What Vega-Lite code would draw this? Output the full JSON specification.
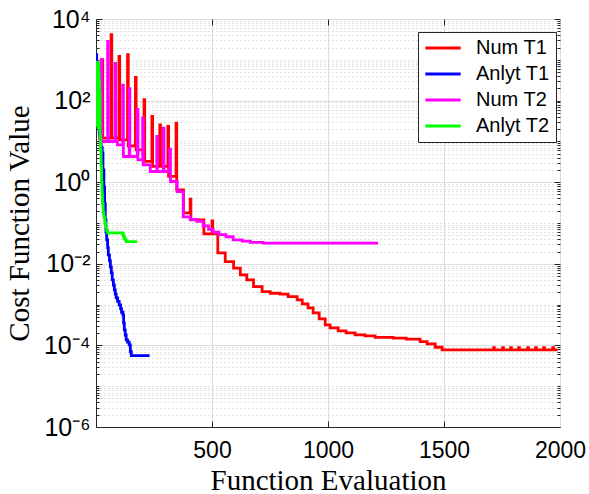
{
  "$schema": "https://vega.github.io/schema/vega-lite/v6.json",
  "width": 464,
  "height": 408,
  "autosize": "none",
  "padding": {"left": 96, "top": 19, "right": 29, "bottom": 67},
  "config": {"view": {"stroke": "#262626", "strokeWidth": 1}, "font": "Liberation Sans"},
  "data": {"values": [
    {"s": "Num T1", "x": 1, "y": 300}, {"s": "Num T1", "x": 8, "y": 60}, {"s": "Num T1", "x": 16, "y": 12.05},
    {"s": "Num T1", "x": 26, "y": 1005}, {"s": "Num T1", "x": 29, "y": 12.05}, {"s": "Num T1", "x": 65, "y": 4120},
    {"s": "Num T1", "x": 68, "y": 12.05}, {"s": "Num T1", "x": 99, "y": 1210}, {"s": "Num T1", "x": 102, "y": 10.9},
    {"s": "Num T1", "x": 136, "y": 1330}, {"s": "Num T1", "x": 139, "y": 7.8}, {"s": "Num T1", "x": 170, "y": 370},
    {"s": "Num T1", "x": 173, "y": 6.22}, {"s": "Num T1", "x": 207, "y": 105}, {"s": "Num T1", "x": 210, "y": 3.25},
    {"s": "Num T1", "x": 241, "y": 40.8}, {"s": "Num T1", "x": 244, "y": 2.45}, {"s": "Num T1", "x": 275, "y": 25.5},
    {"s": "Num T1", "x": 278, "y": 2.45}, {"s": "Num T1", "x": 310, "y": 23.2}, {"s": "Num T1", "x": 313, "y": 1.39},
    {"s": "Num T1", "x": 345, "y": 28.1}, {"s": "Num T1", "x": 348, "y": 0.65}, {"s": "Num T1", "x": 377, "y": 0.177},
    {"s": "Num T1", "x": 406, "y": 0.385}, {"s": "Num T1", "x": 409, "y": 0.119}, {"s": "Num T1", "x": 465, "y": 0.0542},
    {"s": "Num T1", "x": 500, "y": 0.113}, {"s": "Num T1", "x": 503, "y": 0.0542}, {"s": "Num T1", "x": 525, "y": 0.0185},
    {"s": "Num T1", "x": 557, "y": 0.0113}, {"s": "Num T1", "x": 593, "y": 0.00781}, {"s": "Num T1", "x": 622, "y": 0.00535},
    {"s": "Num T1", "x": 650, "y": 0.00404}, {"s": "Num T1", "x": 679, "y": 0.00276}, {"s": "Num T1", "x": 716, "y": 0.00208},
    {"s": "Num T1", "x": 751, "y": 0.0019}, {"s": "Num T1", "x": 794, "y": 0.0018}, {"s": "Num T1", "x": 828, "y": 0.00157},
    {"s": "Num T1", "x": 867, "y": 0.0013}, {"s": "Num T1", "x": 889, "y": 0.00104}, {"s": "Num T1", "x": 914, "y": 0.00083},
    {"s": "Num T1", "x": 936, "y": 0.000625}, {"s": "Num T1", "x": 962, "y": 0.000446}, {"s": "Num T1", "x": 988, "y": 0.000318},
    {"s": "Num T1", "x": 1009, "y": 0.000268}, {"s": "Num T1", "x": 1044, "y": 0.000226}, {"s": "Num T1", "x": 1078, "y": 0.000202},
    {"s": "Num T1", "x": 1117, "y": 0.000181}, {"s": "Num T1", "x": 1160, "y": 0.000171}, {"s": "Num T1", "x": 1203, "y": 0.000158},
    {"s": "Num T1", "x": 1281, "y": 0.00015}, {"s": "Num T1", "x": 1337, "y": 0.000142}, {"s": "Num T1", "x": 1397, "y": 0.000124},
    {"s": "Num T1", "x": 1427, "y": 0.000109}, {"s": "Num T1", "x": 1462, "y": 0.0000902}, {"s": "Num T1", "x": 1492, "y": 0.0000774},
    {"s": "Num T1", "x": 1714, "y": 0.000088}, {"s": "Num T1", "x": 1717, "y": 0.0000774},
    {"s": "Num T1", "x": 1753, "y": 0.000088}, {"s": "Num T1", "x": 1756, "y": 0.0000774},
    {"s": "Num T1", "x": 1787, "y": 0.000088}, {"s": "Num T1", "x": 1790, "y": 0.0000774},
    {"s": "Num T1", "x": 1822, "y": 0.000088}, {"s": "Num T1", "x": 1825, "y": 0.0000774},
    {"s": "Num T1", "x": 1861, "y": 0.000088}, {"s": "Num T1", "x": 1864, "y": 0.0000774},
    {"s": "Num T1", "x": 1895, "y": 0.000088}, {"s": "Num T1", "x": 1898, "y": 0.0000774},
    {"s": "Num T1", "x": 1930, "y": 0.000088}, {"s": "Num T1", "x": 1933, "y": 0.0000774},
    {"s": "Num T1", "x": 1969, "y": 0.000088}, {"s": "Num T1", "x": 1972, "y": 0.0000774},
    {"s": "Num T1", "x": 1990, "y": 0.0000774},

    {"s": "Anlyt T1", "x": 1, "y": 1330}, {"s": "Anlyt T1", "x": 3, "y": 500}, {"s": "Anlyt T1", "x": 6, "y": 100},
    {"s": "Anlyt T1", "x": 10, "y": 30}, {"s": "Anlyt T1", "x": 14, "y": 15}, {"s": "Anlyt T1", "x": 18, "y": 10},
    {"s": "Anlyt T1", "x": 22, "y": 7}, {"s": "Anlyt T1", "x": 27, "y": 5.26}, {"s": "Anlyt T1", "x": 30, "y": 2},
    {"s": "Anlyt T1", "x": 34, "y": 0.77}, {"s": "Anlyt T1", "x": 37, "y": 0.3}, {"s": "Anlyt T1", "x": 40, "y": 0.119},
    {"s": "Anlyt T1", "x": 43, "y": 0.06}, {"s": "Anlyt T1", "x": 46, "y": 0.0386}, {"s": "Anlyt T1", "x": 50, "y": 0.025},
    {"s": "Anlyt T1", "x": 53, "y": 0.0166}, {"s": "Anlyt T1", "x": 58, "y": 0.012}, {"s": "Anlyt T1", "x": 62, "y": 0.0084},
    {"s": "Anlyt T1", "x": 66, "y": 0.006}, {"s": "Anlyt T1", "x": 70, "y": 0.00404}, {"s": "Anlyt T1", "x": 75, "y": 0.003},
    {"s": "Anlyt T1", "x": 79, "y": 0.00229}, {"s": "Anlyt T1", "x": 83, "y": 0.0018}, {"s": "Anlyt T1", "x": 87, "y": 0.00146},
    {"s": "Anlyt T1", "x": 93, "y": 0.0012}, {"s": "Anlyt T1", "x": 100, "y": 0.00098}, {"s": "Anlyt T1", "x": 106, "y": 0.0008},
    {"s": "Anlyt T1", "x": 110, "y": 0.00065}, {"s": "Anlyt T1", "x": 116, "y": 0.000558}, {"s": "Anlyt T1", "x": 119, "y": 0.00035},
    {"s": "Anlyt T1", "x": 122, "y": 0.000239}, {"s": "Anlyt T1", "x": 126, "y": 0.00018}, {"s": "Anlyt T1", "x": 130, "y": 0.000136},
    {"s": "Anlyt T1", "x": 136, "y": 0.00012}, {"s": "Anlyt T1", "x": 143, "y": 0.000103}, {"s": "Anlyt T1", "x": 148, "y": 0.00007},
    {"s": "Anlyt T1", "x": 152, "y": 0.0000561}, {"s": "Anlyt T1", "x": 231, "y": 0.0000561},

    {"s": "Num T2", "x": 1, "y": 600}, {"s": "Num T2", "x": 10, "y": 50}, {"s": "Num T2", "x": 18, "y": 9.95},
    {"s": "Num T2", "x": 22, "y": 1005}, {"s": "Num T2", "x": 25, "y": 9.95}, {"s": "Num T2", "x": 50, "y": 2820},
    {"s": "Num T2", "x": 53, "y": 9.95}, {"s": "Num T2", "x": 82, "y": 815}, {"s": "Num T2", "x": 85, "y": 9.95},
    {"s": "Num T2", "x": 92, "y": 8.26}, {"s": "Num T2", "x": 115, "y": 240}, {"s": "Num T2", "x": 118, "y": 4.27},
    {"s": "Num T2", "x": 143, "y": 195}, {"s": "Num T2", "x": 146, "y": 4.27}, {"s": "Num T2", "x": 178, "y": 60.7},
    {"s": "Num T2", "x": 181, "y": 3.54}, {"s": "Num T2", "x": 201, "y": 37.9}, {"s": "Num T2", "x": 204, "y": 2.67},
    {"s": "Num T2", "x": 234, "y": 1.83}, {"s": "Num T2", "x": 262, "y": 13.2}, {"s": "Num T2", "x": 265, "y": 1.83},
    {"s": "Num T2", "x": 290, "y": 21.2}, {"s": "Num T2", "x": 293, "y": 1.83}, {"s": "Num T2", "x": 318, "y": 6.47},
    {"s": "Num T2", "x": 321, "y": 1.04}, {"s": "Num T2", "x": 350, "y": 0.59}, {"s": "Num T2", "x": 376, "y": 0.142},
    {"s": "Num T2", "x": 406, "y": 0.122}, {"s": "Num T2", "x": 435, "y": 0.11}, {"s": "Num T2", "x": 462, "y": 0.085},
    {"s": "Num T2", "x": 485, "y": 0.07}, {"s": "Num T2", "x": 505, "y": 0.06}, {"s": "Num T2", "x": 530, "y": 0.052},
    {"s": "Num T2", "x": 560, "y": 0.046}, {"s": "Num T2", "x": 591, "y": 0.0386}, {"s": "Num T2", "x": 630, "y": 0.036},
    {"s": "Num T2", "x": 665, "y": 0.0335}, {"s": "Num T2", "x": 720, "y": 0.0321}, {"s": "Num T2", "x": 1216, "y": 0.0321},

    {"s": "Anlyt T2", "x": 0, "y": 600}, {"s": "Anlyt T2", "x": 1, "y": 30}, {"s": "Anlyt T2", "x": 2, "y": 850},
    {"s": "Anlyt T2", "x": 3, "y": 25}, {"s": "Anlyt T2", "x": 4, "y": 700}, {"s": "Anlyt T2", "x": 5, "y": 40},
    {"s": "Anlyt T2", "x": 6, "y": 880}, {"s": "Anlyt T2", "x": 7, "y": 28}, {"s": "Anlyt T2", "x": 8, "y": 600},
    {"s": "Anlyt T2", "x": 9, "y": 22}, {"s": "Anlyt T2", "x": 10, "y": 780}, {"s": "Anlyt T2", "x": 11, "y": 35},
    {"s": "Anlyt T2", "x": 12, "y": 500}, {"s": "Anlyt T2", "x": 13, "y": 22}, {"s": "Anlyt T2", "x": 14, "y": 300},
    {"s": "Anlyt T2", "x": 15, "y": 20}, {"s": "Anlyt T2", "x": 16, "y": 150}, {"s": "Anlyt T2", "x": 17, "y": 15},
    {"s": "Anlyt T2", "x": 18, "y": 12}, {"s": "Anlyt T2", "x": 20, "y": 6}, {"s": "Anlyt T2", "x": 22, "y": 2.5},
    {"s": "Anlyt T2", "x": 24, "y": 1}, {"s": "Anlyt T2", "x": 26, "y": 0.5}, {"s": "Anlyt T2", "x": 28, "y": 0.3},
    {"s": "Anlyt T2", "x": 31, "y": 0.18}, {"s": "Anlyt T2", "x": 34, "y": 0.142}, {"s": "Anlyt T2", "x": 38, "y": 0.1},
    {"s": "Anlyt T2", "x": 42, "y": 0.08}, {"s": "Anlyt T2", "x": 46, "y": 0.065}, {"s": "Anlyt T2", "x": 50, "y": 0.057},
    {"s": "Anlyt T2", "x": 112, "y": 0.057}, {"s": "Anlyt T2", "x": 116, "y": 0.052}, {"s": "Anlyt T2", "x": 119, "y": 0.046},
    {"s": "Anlyt T2", "x": 123, "y": 0.041}, {"s": "Anlyt T2", "x": 127, "y": 0.038}, {"s": "Anlyt T2", "x": 131, "y": 0.0351},
    {"s": "Anlyt T2", "x": 177, "y": 0.0351}
  ]},
  "layer": [
    {
      "mark": {"type": "line", "interpolate": "step-after", "strokeWidth": 2.8, "clip": true},
      "encoding": {
        "x": {"field": "x", "type": "quantitative", "scale": {"domain": [0, 2000], "nice": false},
          "axis": {"orient": "bottom", "values": [500, 1000, 1500, 2000], "format": "d", "grid": true, "gridColor": "#dedede", "ticks": false,
            "domainColor": "#262626", "labelFont": "Liberation Sans", "labelFontSize": 23, "labelColor": "black", "labelPadding": 12,
            "labelFlush": false, "labelOverlap": false,
            "title": "Function Evaluation", "titleFont": "Liberation Serif", "titleFontSize": 29, "titleFontWeight": "normal", "titleColor": "black", "titlePadding": 4}},
        "y": {"field": "y", "type": "quantitative", "scale": {"type": "log", "domain": [0.000001, 10000], "nice": false},
          "axis": {"orient": "left",
            "values": [0.000001,0.000002,0.000003,0.000004,0.000005,0.000006,0.000007,0.000008,0.000009,0.00001,0.00002,0.00003,0.00004,0.00005,0.00006,0.00007,0.00008,0.00009,0.0001,0.0002,0.0003,0.0004,0.0005,0.0006,0.0007,0.0008,0.0009,0.001,0.002,0.003,0.004,0.005,0.006,0.007,0.008,0.009,0.01,0.02,0.03,0.04,0.05,0.06,0.07,0.08,0.09,0.1,0.2,0.3,0.4,0.5,0.6,0.7,0.8,0.9,1,2,3,4,5,6,7,8,9,10,20,30,40,50,60,70,80,90,100,200,300,400,500,600,700,800,900,1000,2000,3000,4000,5000,6000,7000,8000,9000,10000],
            "labelExpr": "indexof([0.000001,0.0001,0.01,1,100,10000], datum.value) < 0 ? '' : datum.value >= 5000 ? '10⁴' : datum.value >= 50 ? '10²' : datum.value >= 0.5 ? '10⁰' : datum.value >= 0.005 ? '10⁻²' : datum.value >= 0.00005 ? '10⁻⁴' : '10⁻⁶'",
            "grid": true,
            "gridDash": {"condition": {"test": "indexof([0.000001,0.0001,0.01,1,100,10000], datum.value) >= 0", "value": []}, "value": [1, 3]},
            "gridColor": {"condition": {"test": "indexof([0.000001,0.0001,0.01,1,100,10000], datum.value) >= 0", "value": "#dedede"}, "value": "#c4c4c4"},
            "ticks": false, "domainColor": "#262626", "labelFont": "Liberation Sans", "labelFontSize": 25, "labelColor": "black", "labelPadding": 6,
            "labelOverlap": false, "labelFlush": false, "labelBound": false,
            "title": "Cost Function Value", "titleFont": "Liberation Serif", "titleFontSize": 29, "titleFontWeight": "normal", "titleColor": "black", "titlePadding": 9}},
        "color": {"field": "s", "type": "nominal",
          "scale": {"domain": ["Num T1", "Anlyt T1", "Num T2", "Anlyt T2"], "range": ["#ff0000", "#0000ff", "#ff00ff", "#00ff00"]},
          "legend": {"orient": "none", "legendX": 322, "legendY": 13, "title": null, "symbolType": "M-2.5,0H2.5", "symbolSize": 200,
            "symbolStrokeWidth": 3, "symbolOffset": 9, "labelOffset": 23, "labelFont": "Liberation Sans", "labelFontSize": 20, "labelColor": "black",
            "rowPadding": 6, "padding": 6, "strokeColor": "#262626", "fillColor": "white"}}
      }
    },
    {
      "mark": {"type": "line", "strokeOpacity": 0},
      "encoding": {
        "x": {"field": "x", "type": "quantitative", "axis": {"orient": "top", "values": [500, 1000, 1500], "labels": false, "grid": false, "domain": false, "ticks": true, "tickSize": -6, "tickColor": "#262626", "title": null}},
        "y": {"field": "y", "type": "quantitative",
          "axis": {"orient": "left",
            "values": [0.000001,0.000002,0.000003,0.000004,0.000005,0.000006,0.000007,0.000008,0.000009,0.00001,0.00002,0.00003,0.00004,0.00005,0.00006,0.00007,0.00008,0.00009,0.0001,0.0002,0.0003,0.0004,0.0005,0.0006,0.0007,0.0008,0.0009,0.001,0.002,0.003,0.004,0.005,0.006,0.007,0.008,0.009,0.01,0.02,0.03,0.04,0.05,0.06,0.07,0.08,0.09,0.1,0.2,0.3,0.4,0.5,0.6,0.7,0.8,0.9,1,2,3,4,5,6,7,8,9,10,20,30,40,50,60,70,80,90,100,200,300,400,500,600,700,800,900,1000,2000,3000,4000,5000,6000,7000,8000,9000,10000],
            "labels": false, "grid": false, "domain": false, "ticks": true,
            "tickSize": {"condition": {"test": "indexof([0.000001,0.0001,0.01,1,100,10000], datum.value) >= 0", "value": -6}, "value": -3},
            "tickColor": "#262626", "title": null}}
      }
    },
    {
      "mark": {"type": "line", "strokeOpacity": 0},
      "encoding": {
        "x": {"field": "x", "type": "quantitative", "axis": {"orient": "bottom", "values": [500, 1000, 1500], "labels": false, "grid": false, "domain": false, "ticks": true, "tickSize": -6, "tickColor": "#262626", "title": null}},
        "y": {"field": "y", "type": "quantitative",
          "axis": {"orient": "right",
            "values": [0.000001,0.000002,0.000003,0.000004,0.000005,0.000006,0.000007,0.000008,0.000009,0.00001,0.00002,0.00003,0.00004,0.00005,0.00006,0.00007,0.00008,0.00009,0.0001,0.0002,0.0003,0.0004,0.0005,0.0006,0.0007,0.0008,0.0009,0.001,0.002,0.003,0.004,0.005,0.006,0.007,0.008,0.009,0.01,0.02,0.03,0.04,0.05,0.06,0.07,0.08,0.09,0.1,0.2,0.3,0.4,0.5,0.6,0.7,0.8,0.9,1,2,3,4,5,6,7,8,9,10,20,30,40,50,60,70,80,90,100,200,300,400,500,600,700,800,900,1000,2000,3000,4000,5000,6000,7000,8000,9000,10000],
            "labels": false, "grid": false, "domain": false, "ticks": true,
            "tickSize": {"condition": {"test": "indexof([0.000001,0.0001,0.01,1,100,10000], datum.value) >= 0", "value": -6}, "value": -3},
            "tickColor": "#262626", "title": null}}
      }
    }
  ],
  "resolve": {"axis": {"x": "independent", "y": "independent"}}
}
